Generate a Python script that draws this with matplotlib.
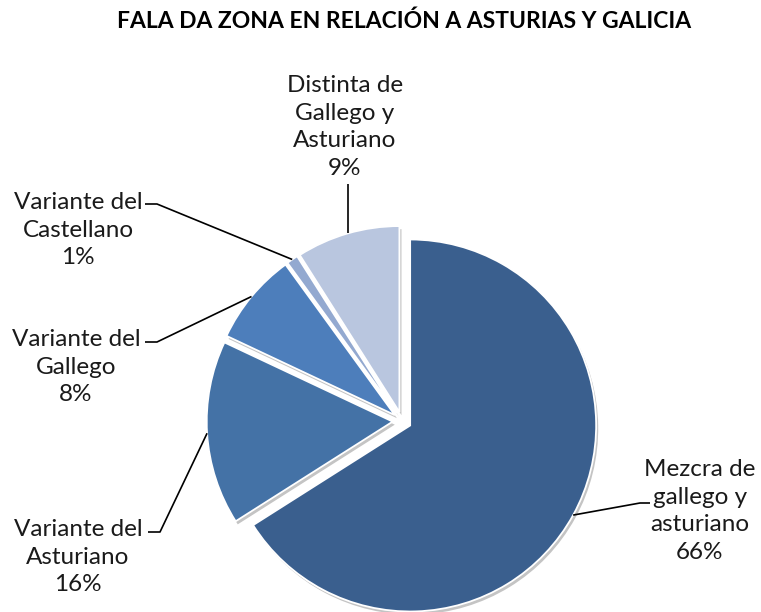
import numpy as np
import matplotlib
matplotlib.use('Agg')
import matplotlib.pyplot as plt

plt.rcParams['font.family'] = ['Lato', 'DejaVu Sans']

# datos (orden en sentido horario desde arriba)
categorias = ['Mezcra de\ngallego y\nasturiano', 'Variante del\nAsturiano',
              'Variante del\nGallego', 'Variante del\nCastellano',
              'Distinta de\nGallego y\nAsturiano']
valores = [66, 16, 8, 1, 9]
colores = ['#3A5F8E', '#4472A6', '#4D7EBB', '#93A9D0', '#B9C6DF']
titulo = 'FALA DA ZONA EN RELACIÓN A ASTURIAS Y GALICIA'

W, H = 761, 612
cx, cy, s = 402, 421, 186  # centro y radio en pixeles

fig = plt.figure(figsize=(W / 100, H / 100), dpi=100)
ax = fig.add_axes([0, 0, 1, 1])

def px(x, y):
    return ((x - cx) / s, (cy - y) / s)

explode = [0.05] * len(valores)
wedges, _ = ax.pie(valores, startangle=90, counterclock=False, colors=colores,
                   explode=explode, radius=1,
                   wedgeprops=dict(edgecolor='white', linewidth=1.3),
                   shadow=dict(ox=0.008, oy=-0.012, facecolor='#C4C4C4',
                               edgecolor='none', alpha=1))
ax.set_aspect('auto')
ax.set_xlim(-cx / s, (W - cx) / s)
ax.set_ylim(-(H - cy) / s, cy / s)
ax.axis('off')

# posiciones de las etiquetas (pixeles) y codo de la linea guia
etq = [(700, 511), (78, 557), (76, 367), (78, 230), (345, 127)]
codo = [[(650, 503), (640, 503)], [(148, 532), (160, 532)],
        [(145, 342), (157, 342)], [(145, 204), (157, 204)], None]

total = sum(valores)
for w, v, c, (lx, ly), cd, e in zip(wedges, valores, categorias, etq, codo, explode):
    ang = np.deg2rad((w.theta1 + w.theta2) / 2)
    ox, oy = np.cos(ang) * e, np.sin(ang) * e
    ax_, ay_ = ox + np.cos(ang), oy + np.sin(ang)
    if cd is None:
        xs = [ax_, ax_]
        ys = [ay_, px(0, 184)[1]]
    else:
        p1, p2 = px(*cd[0]), px(*cd[1])
        xs = [p1[0], p2[0], ax_]
        ys = [p1[1], p2[1], ay_]
    ax.plot(xs, ys, color='black', lw=1.2, solid_capstyle='butt')
    tx, ty = px(lx, ly)
    ax.text(tx, ty, f'{c}\n{round(100 * v / total)}%', ha='center', va='center',
            fontsize=17.5, linespacing=1.39, color='#1a1a1a')

fig.text(404 / W, 1 - 21 / H, titulo, ha='center', va='center',
         fontsize=16.5, fontweight='bold')

fig.savefig('out.png', dpi=100)
